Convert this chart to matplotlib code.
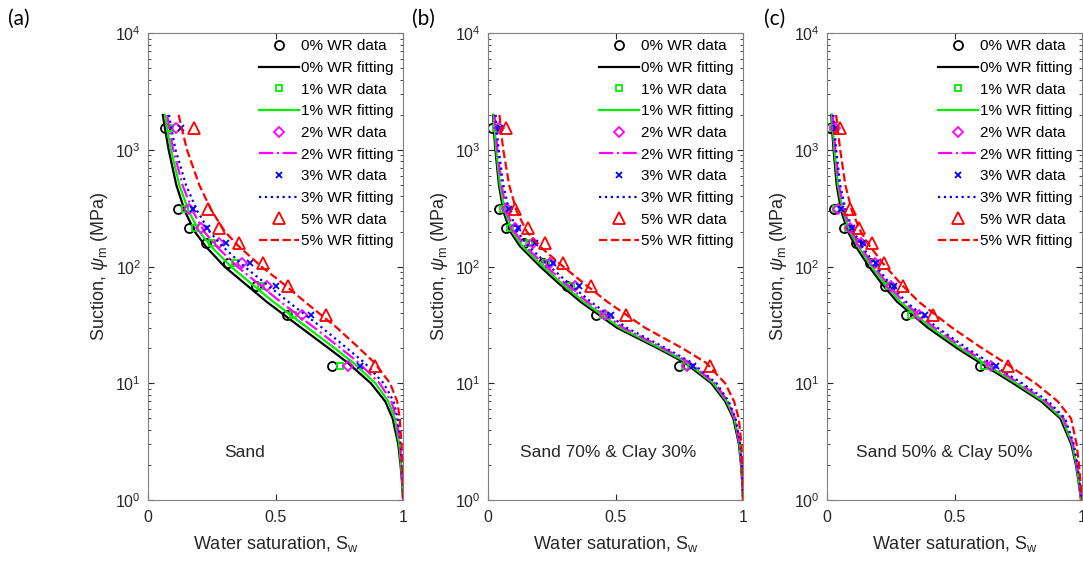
import numpy as np
import matplotlib
matplotlib.use("Agg")
import matplotlib.pyplot as plt

# suction levels (MPa) of the measured points and of the fitted curves
psi_data = [1550, 310, 216, 160, 107, 68, 38.5, 14.1]
psi_fit = [2000, 1500, 1000, 500, 300, 200, 150, 100, 70, 50, 30, 20, 15, 10, 7, 5, 3, 2, 1.5, 1]

wr_labels = ["0% WR", "1% WR", "2% WR", "3% WR", "5% WR"]

# (a) Sand
sw_data_a = [
    [0.067, 0.119, 0.162, 0.227, 0.315, 0.422, 0.544, 0.723],
    [0.085, 0.145, 0.184, 0.250, 0.341, 0.442, 0.567, 0.753],
    [0.110, 0.162, 0.207, 0.280, 0.367, 0.467, 0.605, 0.783],
    [0.128, 0.178, 0.230, 0.306, 0.400, 0.502, 0.639, 0.831],
    [0.180, 0.237, 0.278, 0.357, 0.452, 0.550, 0.697, 0.891],
]
sw_fit_a = [
    [0.058, 0.067, 0.081, 0.111, 0.144, 0.183, 0.225, 0.300, 0.385, 0.465, 0.600, 0.708, 0.783, 0.874, 0.930, 0.959, 0.981, 0.990, 0.995, 1.0],
    [0.066, 0.075, 0.090, 0.123, 0.159, 0.201, 0.246, 0.325, 0.410, 0.491, 0.625, 0.732, 0.805, 0.892, 0.942, 0.967, 0.985, 0.992, 0.996, 1.0],
    [0.075, 0.084, 0.099, 0.135, 0.175, 0.220, 0.267, 0.350, 0.437, 0.519, 0.652, 0.755, 0.826, 0.908, 0.954, 0.974, 0.989, 0.994, 0.997, 1.0],
    [0.082, 0.092, 0.108, 0.149, 0.193, 0.241, 0.291, 0.378, 0.467, 0.550, 0.682, 0.780, 0.849, 0.924, 0.963, 0.979, 0.991, 0.995, 0.998, 1.0],
    [0.120, 0.133, 0.153, 0.201, 0.250, 0.301, 0.355, 0.445, 0.535, 0.615, 0.740, 0.828, 0.888, 0.949, 0.977, 0.987, 0.994, 0.997, 0.999, 1.0],
]

# (b) Sand 70% & Clay 30%
sw_data_b = [
    [0.015, 0.045, 0.071, 0.142, 0.216, 0.311, 0.425, 0.747],
    [0.030, 0.060, 0.087, 0.159, 0.229, 0.324, 0.449, 0.771],
    [0.044, 0.074, 0.107, 0.175, 0.245, 0.343, 0.459, 0.782],
    [0.048, 0.083, 0.117, 0.186, 0.255, 0.357, 0.482, 0.804],
    [0.071, 0.107, 0.155, 0.225, 0.295, 0.403, 0.541, 0.870],
]
sw_fit_b = [
    [0.020, 0.023, 0.029, 0.043, 0.060, 0.087, 0.125, 0.205, 0.283, 0.363, 0.505, 0.665, 0.772, 0.876, 0.930, 0.962, 0.984, 0.992, 0.996, 1.0],
    [0.022, 0.026, 0.032, 0.047, 0.066, 0.095, 0.134, 0.216, 0.295, 0.375, 0.517, 0.676, 0.782, 0.884, 0.936, 0.966, 0.986, 0.993, 0.997, 1.0],
    [0.026, 0.030, 0.037, 0.053, 0.073, 0.104, 0.145, 0.229, 0.308, 0.389, 0.530, 0.687, 0.791, 0.890, 0.940, 0.969, 0.988, 0.994, 0.997, 1.0],
    [0.030, 0.034, 0.042, 0.060, 0.083, 0.115, 0.158, 0.243, 0.323, 0.403, 0.543, 0.698, 0.800, 0.896, 0.944, 0.971, 0.989, 0.995, 0.998, 1.0],
    [0.045, 0.050, 0.060, 0.083, 0.112, 0.152, 0.202, 0.295, 0.383, 0.468, 0.615, 0.762, 0.855, 0.930, 0.965, 0.983, 0.994, 0.997, 0.999, 1.0],
]

# (c) Sand 50% & Clay 50%
sw_data_c = [
    [0.013, 0.026, 0.067, 0.112, 0.167, 0.226, 0.311, 0.600],
    [0.022, 0.036, 0.082, 0.128, 0.180, 0.245, 0.330, 0.617],
    [0.030, 0.043, 0.091, 0.134, 0.187, 0.252, 0.360, 0.644],
    [0.034, 0.056, 0.098, 0.141, 0.193, 0.261, 0.383, 0.663],
    [0.052, 0.089, 0.124, 0.176, 0.223, 0.300, 0.415, 0.709],
]
sw_fit_c = [
    [0.017, 0.020, 0.026, 0.038, 0.056, 0.082, 0.112, 0.165, 0.218, 0.275, 0.395, 0.510, 0.600, 0.730, 0.840, 0.915, 0.958, 0.976, 0.985, 0.996],
    [0.019, 0.023, 0.029, 0.043, 0.062, 0.090, 0.121, 0.175, 0.229, 0.287, 0.408, 0.523, 0.613, 0.742, 0.850, 0.922, 0.962, 0.978, 0.986, 0.997],
    [0.022, 0.026, 0.033, 0.047, 0.068, 0.097, 0.129, 0.185, 0.240, 0.299, 0.421, 0.536, 0.626, 0.754, 0.858, 0.928, 0.965, 0.980, 0.988, 0.998],
    [0.025, 0.029, 0.036, 0.052, 0.074, 0.104, 0.137, 0.194, 0.250, 0.310, 0.433, 0.549, 0.639, 0.766, 0.868, 0.934, 0.968, 0.982, 0.989, 0.999],
    [0.036, 0.042, 0.052, 0.072, 0.098, 0.132, 0.168, 0.230, 0.293, 0.360, 0.490, 0.608, 0.698, 0.818, 0.905, 0.957, 0.979, 0.988, 0.993, 1.0],
]

panel_tags = ["(a)", "(b)", "(c)"]
panel_names = ["Sand", "Sand 70% & Clay 30%", "Sand 50% & Clay 50%"]

plt.rcParams["font.family"] = "Liberation Sans"
plt.rcParams["mathtext.fontset"] = "custom"
plt.rcParams["mathtext.rm"] = "Liberation Sans"
plt.rcParams["mathtext.it"] = "Liberation Sans:italic"

colors = ["#000000", "#00ee00", "#ff00ff", "#0000ff", "#ff0000"]
styles = ["-", "-", "-.", ":", "--"]
markers = ["o", "s", "D", "x", "^"]
msizes = [6.5, 4.5, 5.5, 4.5, 8]
axis_col = "#262626"

fig = plt.figure(figsize=(10.83, 5.66), dpi=100)
lefts = [0.1367, 0.4506, 0.7636]
tag_x = [0.007, 0.380, 0.705]
name_x = [0.38, 0.47, 0.46]
all_data = [sw_data_a, sw_data_b, sw_data_c]
all_fits = [sw_fit_a, sw_fit_b, sw_fit_c]

for k in range(3):
    ax = fig.add_axes([lefts[k], 0.1166, 0.2355, 0.8245])
    for j in range(5):
        ax.plot(all_data[k][j], psi_data, ls="none", marker=markers[j], ms=msizes[j],
                mfc="none", mec=colors[j], mew=1.3, label=wr_labels[j] + " data")
        ax.plot(all_fits[k][j], psi_fit, color=colors[j], ls=styles[j], lw=1.6,
                label=wr_labels[j] + " fitting")
    ax.set_yscale("log")
    ax.set_ylim(1, 1e4)
    ax.set_xlim(0, 1)
    ax.set_xticks([0, 0.5, 1])
    ax.set_xticklabels(["0", "0.5", "1"])
    ax.tick_params(which="both", direction="in", top=True, right=True,
                   color=axis_col, labelcolor=axis_col, labelsize=11.5)
    ax.tick_params(axis="x", pad=7)
    ax.tick_params(axis="y", pad=5)
    ax.tick_params(which="major", length=4)
    ax.tick_params(which="minor", length=2)
    for sp in ax.spines.values():
        sp.set_color("#7f7f7f")
        sp.set_linewidth(0.8)
    ax.set_xlabel("Water saturation, S$_{\\rm w}$", fontsize=13, color=axis_col, labelpad=7)
    ax.set_ylabel("Suction, $\\psi_{\\rm m}$ (MPa)", fontsize=13, color=axis_col, labelpad=4)
    ax.text(name_x[k], 10 ** 0.41, panel_names[k], ha="center", va="center",
            fontsize=12.5, color=axis_col)
    ax.legend(loc="upper right", bbox_to_anchor=(0.985, 1.0), frameon=False, fontsize=11,
              handlelength=2.6, handletextpad=0.1, labelspacing=0.5, borderaxespad=0.0)
    fig.text(tag_x[k], 0.967, panel_tags[k], fontsize=15, family="Lato", va="center")

fig.savefig("out.png", dpi=100)
